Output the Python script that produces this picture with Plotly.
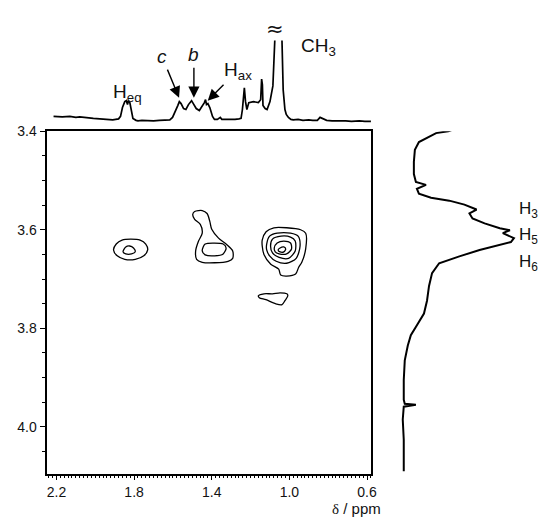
import plotly.graph_objects as go

# ---------------- data ----------------
# 1D projection along F2 (top trace): chemical shift (ppm) vs relative intensity
top_ppm = [2.215, 2.17, 2.131, 2.10, 2.08, 2.05, 2.033, 2.01, 1.984, 1.96, 1.935, 1.91, 1.895, 1.880,
           1.870, 1.860, 1.848, 1.840, 1.834, 1.829, 1.822, 1.814, 1.806, 1.79, 1.78, 1.76, 1.73,
           1.70, 1.67, 1.65, 1.616, 1.602, 1.587, 1.575, 1.567, 1.558, 1.545, 1.533, 1.52, 1.504,
           1.495, 1.48, 1.464, 1.45, 1.438, 1.432, 1.427, 1.420, 1.410, 1.396, 1.386, 1.371,
           1.356, 1.348, 1.32, 1.30, 1.28, 1.26, 1.249, 1.242, 1.236, 1.232, 1.226, 1.219, 1.209,
           1.185, 1.160, 1.148, 1.143, 1.139, 1.136, 1.125, 1.115, 1.100, 1.085, 1.072, 1.068,
           1.044, 1.040, 1.032, 1.023, 1.016, 1.005, 0.992, 0.98, 0.955, 0.93, 0.90, 0.88, 0.856,
           0.842, 0.830, 0.808, 0.78, 0.76, 0.73, 0.71, 0.68, 0.64, 0.611, 0.59, 0.573]
top_int = [3, 2.5, 3, 2, 2.5, 1.5, 1.5, 1, 0.5, 0.5, 0, -0.5, 0, 0.5,
           3, 12, 18, 19, 15, 19, 17, 8, 1, -1, -1.5, -1, -1.5,
           -1.5, -1, -1, -0.5, 2, 8, 14, 18, 16, 11, 10, 15, 19,
           16, 11, 9, 13, 17, 20, 15, 16, 12, 3, 0, 0,
           2, 0, 0, -0.5, 0, 0.5, 1, 10, 30, 32, 18, 10, 17,
           18, 17, 20, 41, 35, 14, 11, 10, 18, 34, 95, 150,
           150, 95, 30, 10, 5, 2, 0, -0.5, 0, -1, -0.5, -1, -1,
           2, 1, -1, -1.5, -1.5, -1, -1.5, -2, -1.5, -2, -2, -2]

# 1D projection along F1 (right-hand trace): chemical shift (ppm) vs relative intensity
side_ppm = [3.396, 3.400, 3.404, 3.422, 3.438, 3.462, 3.487, 3.503, 3.509, 3.517, 3.527, 3.535, 3.541,
            3.549, 3.559, 3.567, 3.577, 3.587, 3.597, 3.601, 3.607, 3.617, 3.625, 3.631, 3.641,
            3.654, 3.668, 3.688, 3.714, 3.744, 3.770, 3.794, 3.814, 3.835, 3.865, 3.905, 3.945,
            3.953, 3.955, 3.959, 3.985, 4.026, 4.090]
side_int = [50, 44, 32, 15, 11, 10, 10, 12, 22, 13, 15, 27, 45,
            60, 72, 65, 68, 80, 95, 105, 98, 109, 106, 95, 75,
            55, 35, 28, 25, 23, 20, 13, 7, 4, 1, 0, 0,
            1, 12, 0, -1, 0, 0]

# 2D cross-peak contour outlines (F2 ppm, F1 ppm)
contours = {
    "Heq outer": ([1.906, 1.892, 1.862, 1.818, 1.769, 1.740, 1.730, 1.750, 1.794, 1.848, 1.887, 1.906],
                  [3.641, 3.629, 3.621, 3.619, 3.621, 3.629, 3.641, 3.653, 3.660, 3.660, 3.653, 3.641]),
    "Heq inner": ([1.857, 1.843, 1.823, 1.803, 1.794, 1.813, 1.843, 1.857],
                  [3.645, 3.635, 3.633, 3.637, 3.645, 3.649, 3.649, 3.645]),
    "Hax outer": ([1.498, 1.488, 1.449, 1.424, 1.410, 1.400, 1.365, 1.326, 1.292, 1.292, 1.316, 1.385,
                   1.449, 1.478, 1.483, 1.468, 1.449, 1.459, 1.488, 1.498],
                  [3.569, 3.563, 3.561, 3.567, 3.583, 3.599, 3.617, 3.629, 3.643, 3.658, 3.664, 3.667,
                   3.666, 3.660, 3.643, 3.623, 3.607, 3.589, 3.579, 3.569]),
    "Hax inner": ([1.449, 1.434, 1.385, 1.341, 1.326, 1.341, 1.385, 1.434, 1.449],
                  [3.643, 3.629, 3.627, 3.629, 3.637, 3.649, 3.653, 3.651, 3.643]),
    "CH3 r1": ([1.140, 1.120, 1.080, 1.014, 0.942, 0.916, 0.916, 0.936, 0.952, 0.968, 1.014, 1.045,
                1.055, 1.096, 1.131, 1.140, 1.140],
               [3.621, 3.604, 3.596, 3.596, 3.600, 3.607, 3.639, 3.666, 3.676, 3.690, 3.694, 3.692,
                3.680, 3.670, 3.650, 3.633, 3.621]),
    "CH3 r2": ([1.117, 1.102, 1.063, 0.994, 0.955, 0.945, 0.965, 1.014, 1.068, 1.102, 1.117, 1.117],
               [3.629, 3.613, 3.607, 3.607, 3.613, 3.633, 3.658, 3.668, 3.664, 3.653, 3.641, 3.629]),
    "CH3 r3": ([1.097, 1.087, 1.043, 0.994, 0.970, 0.970, 1.004, 1.053, 1.087, 1.097],
               [3.633, 3.619, 3.613, 3.615, 3.623, 3.643, 3.658, 3.656, 3.647, 3.633]),
    "CH3 r4": ([1.078, 1.063, 1.029, 0.994, 0.989, 1.014, 1.053, 1.073, 1.078],
               [3.637, 3.627, 3.623, 3.627, 3.639, 3.649, 3.649, 3.645, 3.637]),
    "CH3 r5": ([1.058, 1.048, 1.029, 1.019, 1.029, 1.048, 1.058],
               [3.641, 3.637, 3.635, 3.639, 3.645, 3.645, 3.641]),
    "weak": ([1.160, 1.131, 1.087, 1.048, 1.013, 1.008, 1.023, 1.038, 1.072, 1.121, 1.155, 1.160],
             [3.734, 3.730, 3.730, 3.728, 3.730, 3.734, 3.744, 3.752, 3.750, 3.742, 3.738, 3.734]),
}

x_tickvals = [2.2, 1.8, 1.4, 1.0, 0.6]
x_ticktext = ["2.2", "1.8", "1.4", "1.0", "0.6"]
y_tickvals = [3.4, 3.6, 3.8, 4.0]
y_ticktext = ["3.4", "3.6", "3.8", "4.0"]

X_RANGE = [2.251, 0.580]
Y_RANGE = [4.095, 3.40]

# ---------------- figure ----------------
# The page body keeps the browser's default 8 px margin, so the figure is
# sized to fit the window exactly and layout positions are given in window pixels.
OFF = 8
FW, FH = 546 - OFF, 518 - OFF

def fx(x):
    return (x - OFF) / FW

def fy(y):
    return 1 - (y - OFF) / FH

FONT = "Liberation Sans, Arial, sans-serif"
fig = go.Figure()

for name, (cx, cy) in contours.items():
    fig.add_trace(go.Scatter(x=cx, y=cy, mode="lines",
                             line=dict(color="black", width=1.3, shape="spline", smoothing=0.8),
                             xaxis="x", yaxis="y", showlegend=False, hoverinfo="skip"))

fig.add_trace(go.Scatter(x=top_ppm, y=top_int, mode="lines", line=dict(color="black", width=1.7),
                         xaxis="x2", yaxis="y2", showlegend=False, hoverinfo="skip"))
fig.add_trace(go.Scatter(x=side_int, y=side_ppm, mode="lines", line=dict(color="black", width=2),
                         xaxis="x3", yaxis="y3", showlegend=False, hoverinfo="skip"))

main_dom_x = [fx(47), fx(375)]
main_dom_y = [fy(473), fy(125)]

fig.update_layout(
    width=FW, height=FH, margin=dict(l=0, r=0, t=0, b=0),
    paper_bgcolor="white", plot_bgcolor="white",
    font=dict(family=FONT, color="#111", size=14),
    xaxis=dict(domain=main_dom_x, range=X_RANGE, anchor="y", showgrid=False, zeroline=False,
               showline=True, linecolor="black", linewidth=2, mirror=True,
               ticks="outside", ticklen=4, tickwidth=1, tickcolor="black",
               tickvals=x_tickvals, ticktext=x_ticktext, tickfont=dict(size=14, family=FONT, color="#111"),
               minor=dict(dtick=0.02, tick0=0, ticks="outside", ticklen=2, tickcolor="black", tickwidth=1)),
    yaxis=dict(domain=main_dom_y, range=Y_RANGE, anchor="x", showgrid=False, zeroline=False,
               showline=True, linecolor="black", linewidth=2, mirror=True,
               ticks="outside", ticklen=5, tickwidth=1, tickcolor="black",
               tickvals=y_tickvals, ticktext=y_ticktext, tickfont=dict(size=14, family=FONT, color="#111"),
               minor=dict(dtick=0.05, tick0=0, ticks="outside", ticklen=3, tickcolor="black", tickwidth=1)),
    xaxis2=dict(domain=main_dom_x, range=X_RANGE, anchor="y2", visible=False),
    yaxis2=dict(domain=[fy(122), fy(33)], range=[-9, 80], anchor="x2", visible=False),
    xaxis3=dict(domain=[fx(398), fx(536)], range=[-10, 125], anchor="y3", visible=False),
    yaxis3=dict(domain=main_dom_y, range=Y_RANGE, anchor="x3", visible=False),
)

ann = []
def label(x, y, text, size=19, family=FONT, xanchor="center"):
    ann.append(dict(x=fx(x), y=fy(y), xref="paper", yref="paper", text=text, showarrow=False,
                    font=dict(size=size, family=family, color="#111"), xanchor=xanchor, yanchor="middle"))

def arrow_label(text, tx, ty, lx, ly, size=19):
    # label sits at (lx, ly); arrow points from it to the peak at (tx, ty)
    ann.append(dict(x=fx(tx), y=fy(ty), xref="paper", yref="paper", text=text, showarrow=True,
                    ax=lx - tx, ay=ly - ty, axref="pixel", ayref="pixel",
                    font=dict(size=size, family=FONT, color="#111"),
                    arrowhead=2, arrowsize=1.6, arrowwidth=1.4, arrowcolor="black", standoff=0,
                    startstandoff=1))

label(112, 86, "H<sub>eq</sub>", xanchor="left")
arrow_label("<i>c</i>", 181, 91, 164, 50)
arrow_label("<i>b</i>", 196, 91, 196, 48)
arrow_label("H<sub>ax</sub>", 210, 94, 240, 64)
label(302, 40, "CH<sub>3</sub>", xanchor="left")
label(278, 21, "≈", size=21, family="DejaVu Sans")
label(523, 205, "H<sub>3</sub>", size=17, xanchor="left")
label(523, 232, "H<sub>5</sub>", size=17, xanchor="left")
label(523, 259, "H<sub>6</sub>", size=17, xanchor="left")
label(360, 508, "<span style='font-family:Liberation Serif'>δ</span> / ppm", size=15)

fig.update_layout(annotations=ann)
fig.write_html("out.html")
